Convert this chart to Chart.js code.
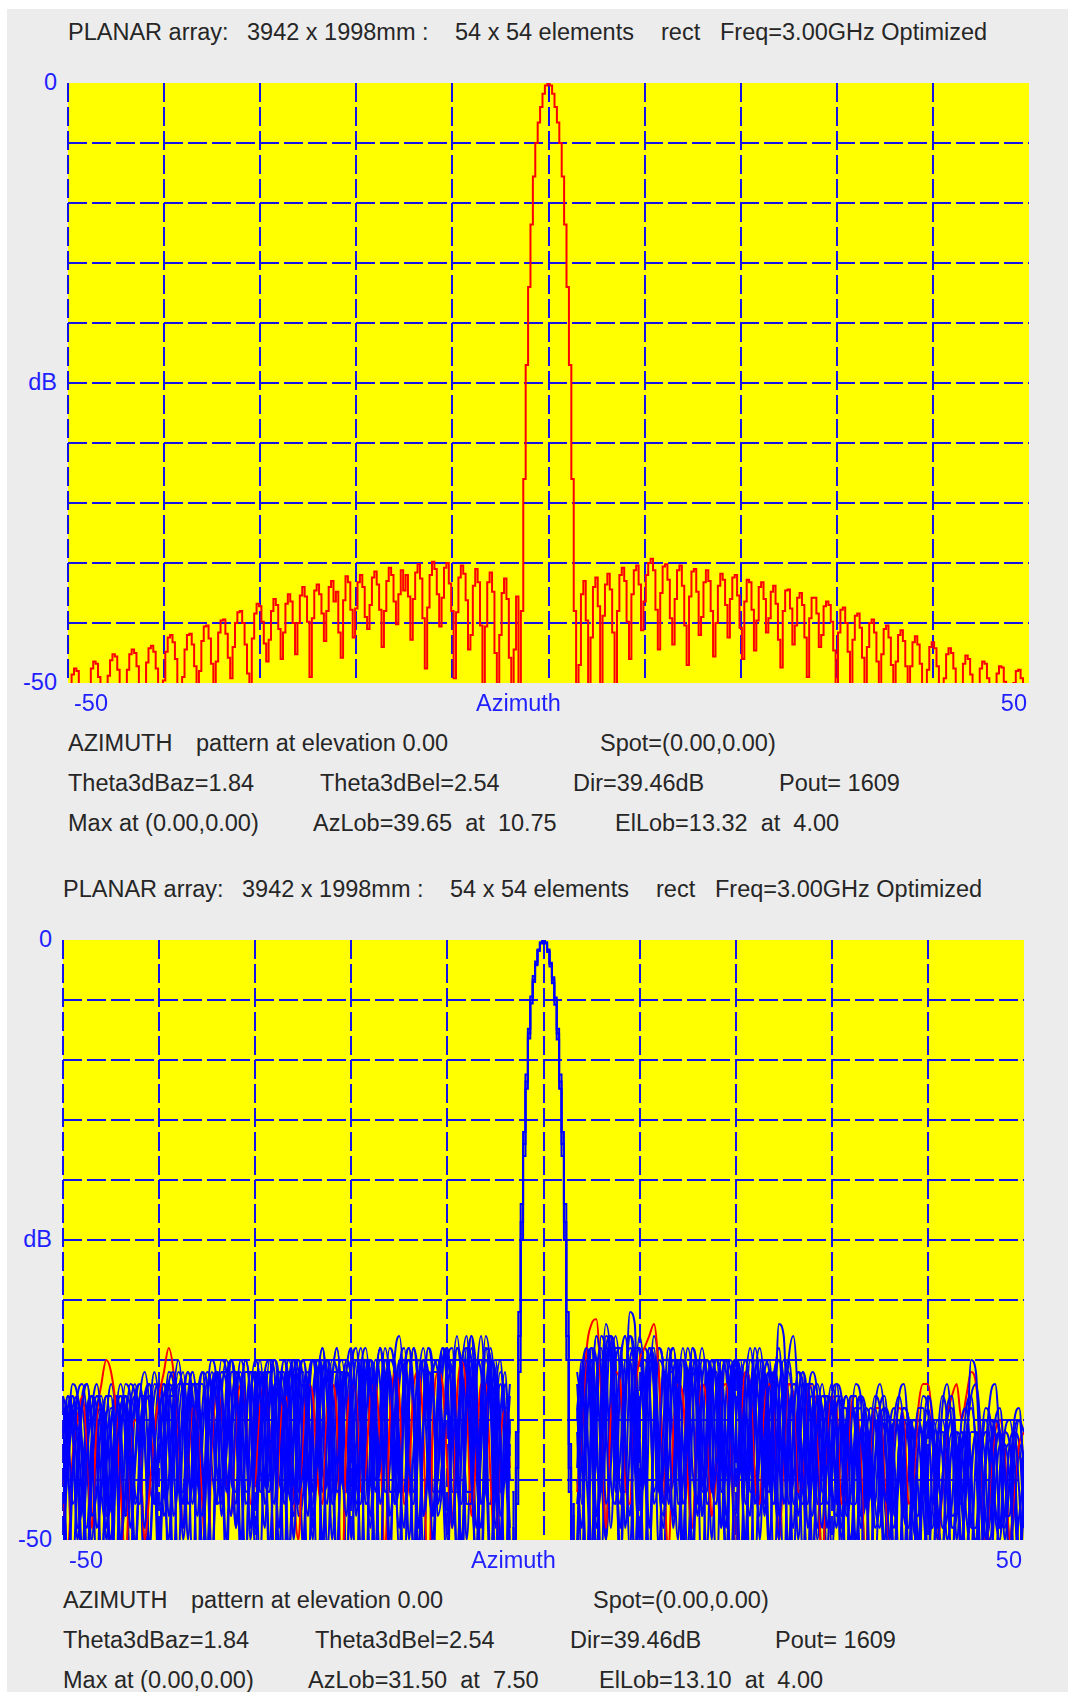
<!DOCTYPE html>
<html>
<head>
<meta charset="utf-8">
<title>Planar array azimuth pattern</title>
<script src="https://cdn.jsdelivr.net/npm/chart.js@4.4.1/dist/chart.umd.min.js"></script>
<style>
  html, body { margin: 0; padding: 0; background: #fff; }
  body { width: 1068px; height: 1692px; position: relative; overflow: hidden; }
  #panel { position: absolute; left: 7px; top: 9px; right: 0; bottom: 0; background: #ececec; }
  .txt { position: absolute; white-space: pre; font-family: "Liberation Sans", Arial, sans-serif;
         font-size: 23.5px; line-height: 23.5px; color: #262626; }
  .ax { color: #1f1fff; }
  canvas { position: absolute; }
</style>
</head>
<body>
<div id="panel"></div>
<canvas id="azTop" width="977" height="616" style="left:60px;top:75px"></canvas>
<canvas id="azBottom" width="977" height="616" style="left:55px;top:932px"></canvas>
<script>
// ---- texts ----
const titleParts = ['PLANAR array:', '3942 x 1998mm :', '54 x 54 elements', 'rect', 'Freq=3.00GHz Optimized'];
const yAxisLabels = ['0', 'dB', '-50'];
const xAxisLabels = ['-50', 'Azimuth', '50'];
const infoTop = [
  ['AZIMUTH', 'pattern at elevation 0.00', 'Spot=(0.00,0.00)'],
  ['Theta3dBaz=1.84', 'Theta3dBel=2.54', 'Dir=39.46dB', 'Pout= 1609'],
  ['Max at (0.00,0.00)', 'AzLob=39.65  at  10.75', 'ElLob=13.32  at  4.00']
];
const infoBottom = [
  ['AZIMUTH', 'pattern at elevation 0.00', 'Spot=(0.00,0.00)'],
  ['Theta3dBaz=1.84', 'Theta3dBel=2.54', 'Dir=39.46dB', 'Pout= 1609'],
  ['Max at (0.00,0.00)', 'AzLob=31.50  at  7.50', 'ElLob=13.10  at  4.00']
];

// ---- optimized pattern, 0.25 deg steps from -50 to 50 (dB) ----
const patternOpt = [
  -53, -50.4, -49.3, -48.8, -49.0, -50.1, -52.5, -56,
  -53.5, -50.2, -48.8, -48.2, -48.4, -49.5, -51.8, -55,
  -52, -49.4, -48.1, -47.6, -47.8, -48.9, -51.0, -54,
  -51.5, -48.9, -47.6, -47.2, -47.5, -48.6, -50.6, -53,
  -50.5, -48.3, -47.1, -46.9, -47.4, -48.8, -51.2, -52.5,
  -49.8, -47.4, -46.2, -46.0, -46.6, -48.0, -50.3, -51.6,
  -49.5, -47.2, -46.0, -45.9, -46.8, -48.6, -50.8,
  -49.0, -46.5, -45.3, -45.2, -46.3, -48.4, -50.9,
  -48.2, -45.8, -44.8, -44.7, -45.9, -47.9, -49.6,
  -47.0, -45.0, -44.1, -44.0, -45.0, -46.8, -49.2,
  -51.0, -46.3, -44.2, -43.4, -43.6, -44.9, -46.7, -48.2,
  -46.4, -44.0, -43.0, -43.5, -45.5, -48.0,
  -45.8, -43.4, -42.6, -43.2, -45.0, -47.6,
  -45.0, -42.7, -42.0, -42.8, -44.9, -49.5,
  -44.6, -42.3, -41.8, -42.6, -44.2, -46.5,
  -44.0, -42.0, -41.5, -43.2, -42.4, -45.8,
  -47.9, -43.1, -41.1, -41.6, -43.9, -46.2,
  -43.8, -41.6, -41.0, -42.0, -44.5, -45.5,
  -43.5, -41.2, -40.7, -41.8, -43.9, -47.0,
  -44.0, -41.5, -40.4, -41.0, -43.2, -45.1,
  -42.6, -40.6, -42.3, -41.0, -42.8, -46.4,
  -43.0, -40.8, -40.1, -41.3, -44.6, -48.8,
  -43.7, -41.0, -39.9, -40.5, -42.6, -45.3,
  -42.9, -40.4, -40.0, -41.7, -44.0, -49.6,
  -44.1, -41.2, -40.2, -40.9, -43.1, -47.2,
  -46.0, -41.9, -40.5, -41.6, -45.2, -52,
  -45.3, -41.6, -40.8, -42.4, -47.5, -55, -46.0, -42.5,
  -41.3, -43.0, -47.9, -56, -47.2, -42.8,
  // main beam -3 .. 3
  -56, -44, -33, -23.5, -17, -11.8, -7.8, -5.0, -3.3, -2.0, -0.9, -0.2, 0,
  -0.2, -0.9, -2.0, -3.3, -5.0, -7.8, -11.8, -17, -23.5, -33, -44, -56,
  -48.5, -42.6, -41.5, -44.8, -53, -46.2,
  -42.0, -41.2, -43.6, -50.5, -44.4, -41.8,
  -40.9, -42.2, -45.8, -52, -44.0, -41.0,
  -40.4, -41.5, -44.9, -48.0, -42.6, -40.6,
  -40.2, -41.8, -45.6, -43.2, -41.0, -40.0,
  -39.65, -40.6, -43.9, -47.2, -42.5, -40.3,
  -40.1, -41.4, -44.6, -46.8, -43.0, -40.6,
  -40.2, -41.9, -45.2, -48.5, -42.8, -40.7,
  -40.5, -42.4, -46.0, -44.5, -41.6, -40.6,
  -41.5, -44.0, -47.8, -45.0, -41.9, -40.9, -41.4, -43.5,
  -46.2, -43.0, -41.2, -41.0, -42.7, -45.4,
  -48.0, -43.2, -41.4, -41.6, -43.9, -47.3,
  -44.8, -42.0, -41.6, -43.0, -45.8, -44.6,
  -42.4, -41.9, -43.4, -46.4, -48.7, -44.0,
  -42.3, -42.2, -43.8, -46.8, -45.2, -42.9,
  -42.5, -43.5, -46.2, -49.5, -44.6, -42.9,
  -42.9, -44.2, -47.0, -46.0, -43.6, -43.2,
  -43.5, -44.9, -47.3, -50.5, -45.8, -43.9, -43.7, -45.0,
  -47.4, -50.8, -46.4, -44.4, -44.2, -45.4, -47.9,
  -51.5, -47.0, -45.0, -44.7, -45.8, -48.2, -52,
  -47.6, -45.5, -45.2, -46.2, -48.5, -51.8, -48.2,
  -46.0, -45.6, -46.5, -48.6, -52, -48.6, -46.6,
  -46.1, -46.8, -48.4, -51.2, -53, -48.9, -47.0, -46.6,
  -47.1, -48.6, -51.3, -54, -49.6, -47.6, -47.1, -47.5,
  -48.8, -51.2, -55, -50.5, -48.4, -47.7, -48.0, -49.3,
  -51.6, -55, -51.0, -48.8, -48.2, -48.4, -49.6, -52,
  -56, -51.4, -49.2, -48.6, -48.7, -49.9, -52.4, -57,
  -52, -50.0, -49.0, -48.9, -49.6, -51.2, -54, -53.0
];

// ---- error trials: main beam (-3.25 .. 3.25, 0.25 deg) ----
const beamA = [-49, -55, -44, -33, -23.5, -17, -11.8, -7.8, -5.0, -3.3, -2.0, -0.9, -0.2, 0,
  -0.2, -0.9, -2.0, -3.3, -5.0, -7.8, -11.8, -17, -23.5, -33, -44, -55, -48];
const beamB = [-46, -52, -41, -31, -22, -16, -11.2, -7.4, -4.7, -3.0, -1.8, -0.8, -0.2, 0,
  -0.3, -1.0, -2.2, -3.6, -5.4, -8.3, -12.4, -18, -25, -35, -46, -53, -47];
const beamC = [-50, -56, -47, -36, -25, -18, -12.4, -8.2, -5.3, -3.5, -2.1, -0.9, -0.3, 0,
  -0.2, -0.8, -1.9, -3.1, -4.8, -7.4, -11.2, -16, -22, -31, -42, -52, -47];

// sidelobes, 0.5 deg: 94 values -50..-3.5 followed by 94 values 3.5..50
const trial1 = [
  -44, -39, -38, -42, -51, -43, -39, -37, -40, -48,
  -47, -40, -38, -39, -45, -53, -41, -38, -37, -41,
  -50, -42, -37, -36, -40, -47, -40, -37, -38, -44,
  -52, -39, -36, -38, -46, -42, -37, -36, -41, -49,
  -40, -36, -37, -44, -47, -38, -35, -39, -50, -41,
  -37, -38, -46, -43, -36, -35, -40, -54, -39, -36,
  -38, -48, -41, -35, -36, -45, -44, -37, -36, -42,
  -51, -38, -35, -39, -49, -40, -36, -38, -47, -43,
  -37, -36, -44, -50, -38, -35, -41, -55, -40, -37,
  -39, -48, -44, -38,
  -41, -52, -37, -35, -43, -46, -36, -33, -39, -52,
  -38, -34, -36, -47, -42, -35, -37, -45, -49, -37,
  -35, -40, -53, -38, -36, -39, -48, -41, -35, -37,
  -46, -44, -36, -35, -42, -51, -38, -36, -40, -48,
  -40, -36, -38, -47, -43, -37, -38, -45, -52, -39,
  -37, -40, -49, -42, -37, -38, -46, -50, -40, -38,
  -41, -52, -44, -39, -38, -43, -51, -42, -39, -40,
  -47, -48, -41, -38, -40, -49, -45, -39, -38, -43,
  -53, -42, -38, -37, -41, -50, -44, -40, -39, -44,
  -52, -43, -40, -41
];
const trial2 = [
  -47, -41, -37, -38, -44, -55, -42, -38, -39, -46,
  -50, -40, -37, -40, -49, -44, -38, -36, -39, -47,
  -43, -38, -37, -43, -52, -40, -36, -38, -45, -48,
  -39, -36, -39, -48, -41, -35, -37, -44, -53, -39,
  -35, -37, -45, -46, -38, -36, -40, -51, -42, -36,
  -36, -43, -50, -38, -34, -38, -47, -45, -37, -36,
  -41, -55, -39, -35, -37, -46, -42, -35, -36, -44,
  -49, -37, -34, -38, -51, -41, -36, -37, -48, -45,
  -36, -35, -42, -52, -39, -34, -38, -47, -44, -36,
  -35, -41, -53, -42,
  -39, -36, -45, -51, -37, -34, -40, -49, -41, -35,
  -33, -38, -53, -40, -35, -37, -46, -43, -36, -38,
  -49, -41, -35, -36, -44, -47, -37, -35, -39, -54,
  -40, -35, -36, -45, -44, -37, -34, -38, -50, -41,
  -36, -37, -48, -42, -35, -33, -39, -52, -39, -36,
  -38, -46, -44, -38, -37, -42, -53, -41, -37, -38,
  -47, -46, -39, -37, -40, -50, -43, -38, -37, -42,
  -52, -42, -38, -39, -47, -46, -39, -37, -41, -50,
  -44, -39, -38, -43, -54, -43, -38, -37, -42, -49,
  -45, -40, -39, -45
];
const trial3 = [
  -38, -40, -47, -45, -39, -37, -41, -53, -43, -38,
  -38, -43, -51, -41, -37, -38, -44, -49, -40, -36,
  -39, -48, -45, -38, -35, -39, -50, -42, -37, -37,
  -43, -54, -40, -36, -37, -45, -46, -38, -35, -38,
  -49, -41, -36, -35, -42, -52, -39, -36, -38, -46,
  -44, -37, -35, -39, -50, -41, -36, -36, -43, -48,
  -39, -35, -38, -47, -45, -37, -34, -40, -53, -40,
  -35, -36, -44, -46, -37, -35, -41, -50, -39, -34,
  -37, -49, -42, -35, -36, -45, -51, -38, -34, -39,
  -52, -40, -36, -45,
  -50, -39, -35, -38, -48, -42, -34, -35, -44, -47,
  -37, -35, -41, -54, -39, -34, -36, -46, -44, -36,
  -36, -43, -51, -39, -34, -37, -48, -42, -36, -36,
  -43, -49, -38, -35, -39, -52, -41, -35, -37, -45,
  -46, -37, -34, -40, -51, -40, -36, -39, -49, -44,
  -38, -39, -47, -45, -39, -38, -44, -52, -42, -38,
  -39, -46, -47, -40, -39, -44, -55, -42, -39, -40,
  -46, -51, -42, -39, -42, -50, -45, -40, -39, -44,
  -51, -44, -35, -36, -46, -53, -43, -40, -41, -48,
  -48, -41, -40, -44
];
const trial4 = [
  -41, -52, -44, -38, -37, -40, -48, -46, -40, -38,
  -42, -55, -42, -37, -38, -46, -47, -39, -37, -41,
  -51, -41, -36, -37, -45, -49, -39, -36, -40, -52,
  -42, -37, -36, -42, -50, -40, -36, -37, -47, -45,
  -38, -35, -40, -53, -41, -36, -37, -46, -47, -37,
  -35, -39, -48, -42, -35, -36, -44, -52, -39, -35,
  -37, -45, -47, -37, -35, -40, -54, -40, -35, -36,
  -44, -49, -38, -34, -38, -48, -43, -36, -36, -45,
  -53, -39, -34, -37, -46, -46, -36, -35, -43, -54,
  -41, -36, -39, -49,
  -36, -40, -55, -40, -33, -36, -47, -44, -35, -34,
  -41, -51, -38, -33, -37, -49, -41, -35, -36, -45,
  -48, -38, -34, -38, -51, -40, -35, -37, -46, -44,
  -37, -35, -41, -54, -39, -35, -38, -47, -43, -36,
  -35, -42, -50, -38, -35, -39, -48, -43, -37, -37,
  -44, -49, -40, -37, -40, -50, -44, -38, -38, -45,
  -54, -42, -38, -39, -46, -47, -40, -38, -41, -51,
  -44, -39, -39, -45, -53, -42, -38, -40, -48, -47,
  -40, -39, -44, -52, -43, -39, -40, -47, -49, -41,
  -40, -43, -51, -46
];
const trial5 = [
  -53, -43, -39, -38, -42, -51, -44, -39, -38, -43,
  -56, -44, -39, -38, -42, -52, -43, -38, -37, -42,
  -47, -46, -39, -37, -40, -50, -44, -37, -37, -43,
  -51, -41, -36, -37, -44, -48, -39, -35, -38, -50,
  -43, -37, -36, -41, -52, -40, -35, -37, -45, -47,
  -38, -36, -41, -55, -40, -35, -37, -46, -44, -36,
  -34, -39, -51, -41, -35, -37, -47, -43, -35, -35,
  -42, -54, -39, -34, -37, -48, -44, -36, -35, -41,
  -50, -40, -34, -36, -47, -47, -37, -33, -39, -52,
  -42, -37, -40, -50,
  -44, -36, -34, -42, -53, -38, -32, -35, -46, -43,
  -35, -35, -44, -50, -38, -34, -38, -51, -40, -34,
  -37, -47, -45, -37, -35, -41, -55, -39, -35, -38,
  -49, -43, -36, -35, -42, -50, -39, -34, -37, -47,
  -44, -36, -35, -41, -53, -41, -36, -37, -45, -48,
  -40, -37, -41, -51, -44, -39, -39, -47, -47, -41,
  -40, -43, -53, -43, -39, -40, -48, -45, -40, -40,
  -45, -55, -44, -40, -41, -49, -46, -40, -40, -46,
  -47, -41, -39, -42, -51, -44, -40, -41, -49, -48,
  -42, -41, -46, -54
];
const trial6 = [
  -40, -38, -41, -50, -45, -39, -38, -42, -54, -43,
  -39, -39, -45, -48, -40, -38, -41, -51, -43, -38,
  -37, -41, -53, -42, -37, -37, -44, -47, -39, -36,
  -40, -52, -41, -36, -36, -43, -49, -39, -35, -38,
  -47, -44, -37, -36, -40, -51, -41, -36, -36, -44,
  -50, -39, -35, -37, -46, -45, -37, -34, -39, -53,
  -40, -35, -36, -44, -49, -38, -34, -37, -48, -44,
  -37, -35, -40, -52, -40, -35, -36, -46, -45, -36,
  -34, -39, -51, -42, -35, -37, -49, -43, -34, -35,
  -43, -52, -39, -39,
  -47, -42, -35, -36, -48, -45, -35, -34, -42, -53,
  -40, -31, -32, -47, -43, -35, -36, -45, -48, -37,
  -34, -38, -50, -41, -35, -36, -46, -44, -37, -36,
  -41, -53, -40, -35, -37, -47, -44, -36, -35, -43,
  -51, -39, -35, -37, -47, -45, -38, -36, -42, -53,
  -42, -38, -38, -45, -49, -41, -38, -41, -50, -44,
  -41, -42, -49, -47, -41, -40, -46, -53, -43, -40,
  -42, -50, -46, -41, -41, -47, -51, -42, -40, -43,
  -50, -46, -41, -41, -47, -53, -43, -40, -42, -50,
  -45, -41, -42, -49
];
const trial7 = [
  -46, -55, -45, -40, -39, -44, -50, -43, -39, -40,
  -46, -53, -42, -38, -39, -47, -45, -39, -38, -43,
  -54, -41, -37, -38, -46, -46, -38, -36, -41, -55,
  -39, -35, -37, -46, -43, -36, -36, -42, -52, -39,
  -36, -38, -47, -44, -37, -37, -43, -53, -40, -35,
  -37, -45, -47, -37, -34, -39, -50, -42, -36, -37,
  -46, -45, -36, -34, -39, -52, -40, -35, -38, -47,
  -45, -36, -35, -41, -55, -39, -34, -37, -47, -43,
  -35, -36, -45, -47, -36, -33, -40, -52, -39, -35,
  -37, -46, -45, -41,
  -39, -47, -41, -34, -35, -44, -50, -37, -33, -37,
  -49, -42, -34, -34, -42, -53, -39, -34, -36, -47,
  -43, -35, -35, -42, -52, -38, -34, -38, -50, -41,
  -35, -36, -44, -48, -38, -35, -40, -53, -41, -35,
  -36, -45, -49, -39, -36, -40, -50, -43, -37, -38,
  -47, -47, -40, -38, -42, -53, -43, -39, -40, -48,
  -47, -41, -39, -42, -51, -46, -40, -40, -46, -51,
  -43, -40, -42, -48, -49, -42, -40, -43, -53, -45,
  -41, -42, -48, -50, -43, -41, -44, -54, -45, -41,
  -42, -47, -52, -44
];
const trial8 = [
  -39, -43, -53, -44, -38, -37, -41, -49, -46, -40,
  -37, -40, -50, -46, -39, -37, -42, -55, -42, -37,
  -38, -45, -50, -40, -36, -38, -47, -45, -38, -36,
  -41, -53, -40, -35, -36, -44, -47, -38, -35, -39,
  -51, -42, -36, -36, -43, -49, -38, -35, -38, -48,
  -46, -37, -35, -40, -52, -40, -35, -36, -45, -46,
  -36, -34, -40, -53, -41, -35, -37, -46, -44, -35,
  -33, -38, -50, -42, -35, -36, -45, -48, -37, -34,
  -38, -48, -44, -35, -34, -42, -54, -39, -33, -36,
  -46, -50, -40, -43,
  -52, -39, -36, -40, -51, -41, -33, -34, -43, -49,
  -38, -33, -37, -50, -41, -34, -35, -44, -47, -36,
  -34, -39, -53, -41, -34, -36, -45, -46, -37, -35,
  -40, -51, -42, -35, -36, -44, -48, -37, -34, -38,
  -50, -42, -32, -33, -44, -49, -39, -36, -39, -51,
  -43, -38, -39, -46, -48, -40, -38, -42, -52, -43,
  -39, -40, -47, -49, -42, -40, -43, -52, -44, -40,
  -41, -46, -52, -44, -40, -42, -49, -48, -42, -41,
  -45, -53, -45, -41, -42, -48, -50, -43, -41, -44,
  -51, -47, -42, -43
];
const trial9 = [
  -42, -38, -40, -49, -47, -40, -38, -41, -52, -44,
  -40, -38, -43, -54, -43, -38, -37, -42, -50, -42,
  -37, -39, -48, -44, -38, -36, -41, -53, -41, -36,
  -37, -44, -47, -38, -35, -38, -49, -43, -36, -36,
  -42, -52, -40, -35, -36, -45, -46, -37, -35, -40,
  -51, -40, -35, -36, -44, -47, -37, -34, -39, -52,
  -41, -35, -35, -43, -48, -38, -34, -38, -50, -41,
  -35, -36, -45, -47, -37, -34, -39, -53, -40, -34,
  -36, -46, -46, -36, -33, -40, -54, -40, -35, -38,
  -49, -43, -37, -41,
  -52, -38, -34, -37, -49, -44, -34, -33, -41, -53,
  -39, -33, -35, -46, -45, -35, -34, -42, -52, -38,
  -35, -37, -47, -44, -36, -35, -42, -51, -39, -35,
  -37, -48, -43, -36, -35, -41, -53, -40, -35, -36,
  -45, -47, -38, -35, -39, -52, -42, -37, -37, -44,
  -49, -41, -38, -39, -47, -46, -40, -38, -42, -52,
  -43, -39, -40, -46, -50, -41, -39, -42, -51, -44,
  -40, -41, -47, -52, -43, -40, -43, -50, -47, -41,
  -42, -48, -51, -43, -41, -44, -53, -46, -42, -43,
  -50, -47, -43, -45
];
const trial10 = [
  -50, -44, -40, -39, -43, -54, -45, -40, -39, -44,
  -53, -43, -39, -38, -43, -50, -44, -39, -38, -42,
  -52, -42, -38, -38, -45, -47, -39, -37, -40, -51,
  -43, -37, -36, -42, -53, -40, -36, -37, -46, -45,
  -37, -36, -41, -50, -42, -36, -36, -44, -48, -38,
  -35, -38, -49, -43, -36, -35, -42, -51, -40, -35,
  -37, -47, -44, -36, -35, -41, -53, -39, -34, -36,
  -46, -46, -37, -34, -39, -51, -42, -35, -36, -45,
  -48, -37, -33, -38, -50, -42, -35, -36, -46, -47,
  -38, -35, -42, -53,
  -40, -35, -39, -51, -41, -33, -35, -45, -47, -36,
  -33, -39, -52, -40, -34, -36, -47, -44, -35, -35,
  -43, -50, -39, -34, -37, -48, -43, -35, -36, -44,
  -49, -38, -35, -39, -52, -41, -35, -37, -47, -45,
  -37, -36, -42, -53, -41, -37, -38, -46, -47, -39,
  -38, -43, -51, -42, -38, -39, -48, -46, -40, -39,
  -44, -53, -43, -40, -41, -47, -49, -42, -40, -42,
  -49, -50, -43, -40, -42, -48, -52, -44, -41, -42,
  -47, -51, -44, -41, -43, -50, -48, -42, -41, -44,
  -52, -46, -43, -44
];
const trial11 = [
  -45, -40, -39, -45, -53, -42, -38, -39, -46, -49,
  -41, -38, -40, -48, -46, -39, -37, -41, -51, -43,
  -38, -37, -42, -52, -41, -37, -37, -44, -48, -39,
  -36, -38, -47, -46, -37, -35, -40, -52, -41, -36,
  -36, -43, -49, -39, -35, -37, -47, -44, -36, -35,
  -41, -54, -40, -35, -36, -45, -46, -37, -35, -39,
  -50, -42, -35, -35, -42, -51, -39, -34, -37, -47,
  -44, -36, -34, -40, -52, -40, -34, -36, -46, -45,
  -35, -34, -41, -53, -39, -33, -36, -47, -44, -35,
  -36, -43, -55, -40,
  -37, -44, -52, -38, -33, -37, -50, -42, -34, -34,
  -43, -48, -37, -34, -38, -52, -40, -34, -36, -46,
  -45, -36, -35, -40, -54, -40, -35, -36, -45, -47,
  -37, -35, -40, -51, -42, -36, -37, -45, -48, -38,
  -36, -40, -50, -43, -37, -38, -46, -47, -39, -38,
  -43, -52, -43, -39, -40, -48, -46, -40, -39, -44,
  -51, -44, -40, -41, -47, -50, -42, -40, -43, -52,
  -45, -41, -41, -46, -53, -44, -41, -42, -49, -48,
  -42, -41, -45, -52, -44, -40, -42, -48, -50, -43,
  -42, -46, -53, -47
];
const trial12 = [
  -48, -42, -38, -40, -47, -49, -41, -38, -40, -50,
  -45, -39, -38, -42, -52, -43, -38, -38, -45, -47,
  -40, -37, -39, -48, -45, -38, -36, -40, -53, -42,
  -37, -37, -44, -47, -38, -35, -38, -50, -42, -36,
  -37, -46, -45, -37, -35, -39, -52, -41, -35, -36,
  -44, -48, -38, -35, -38, -51, -42, -36, -36, -45,
  -47, -37, -34, -39, -53, -40, -35, -36, -46, -46,
  -36, -34, -39, -51, -41, -35, -37, -48, -44, -35,
  -34, -40, -52, -41, -34, -35, -44, -49, -38, -34,
  -39, -50, -43, -37,
  -45, -49, -36, -34, -40, -52, -40, -33, -35, -46,
  -46, -35, -34, -41, -53, -39, -33, -36, -47, -44,
  -36, -35, -42, -51, -40, -35, -37, -47, -45, -37,
  -36, -42, -52, -41, -36, -37, -46, -46, -38, -36,
  -41, -53, -42, -37, -38, -47, -45, -38, -37, -42,
  -50, -43, -39, -39, -46, -49, -41, -39, -41, -49,
  -46, -41, -40, -44, -53, -44, -40, -41, -48, -49,
  -42, -40, -43, -51, -47, -41, -41, -46, -52, -44,
  -41, -43, -49, -49, -43, -41, -45, -54, -44, -42,
  -45, -51, -48, -44
];
// the trial drawn in red
const trialRed = [
  -45, -51, -43, -40, -38, -42, -49, -40, -37, -35,
  -36, -39, -46, -52, -43, -40, -42, -50, -46, -41,
  -38, -36, -34, -36, -41, -49, -44, -39, -40, -47,
  -53, -42, -38, -39, -45, -48, -40, -37, -39, -47,
  -45, -39, -37, -41, -52, -42, -38, -39, -46, -50,
  -41, -37, -38, -45, -47, -39, -37, -40, -54, -41,
  -37, -38, -46, -44, -38, -37, -42, -51, -40, -36,
  -38, -47, -45, -37, -36, -41, -55, -40, -36, -37,
  -44, -49, -38, -35, -38, -48, -43, -37, -37, -45,
  -52, -42, -39, -44,
  -46, -41, -34, -32, -31.6, -38, -49, -40, -36, -37,
  -45, -47, -38, -35, -34, -33, -32, -36, -44, -51,
  -41, -37, -38, -45, -49, -40, -37, -39, -48, -44,
  -38, -37, -42, -52, -41, -36, -37, -45, -47, -39,
  -37, -40, -50, -43, -37, -38, -46, -45, -38, -37,
  -42, -53, -42, -38, -39, -47, -46, -39, -38, -43,
  -52, -43, -39, -39, -45, -50, -42, -39, -40, -47,
  -45, -39, -37, -37, -41, -50, -46, -40, -38, -37,
  -40, -38, -36, -37, -42, -52, -45, -41, -40, -43,
  -50, -46, -42, -41
];
const blueTrials = [trial1, trial2, trial3, trial4, trial5, trial6,
                    trial7, trial8, trial9, trial10, trial11, trial12];

// ---- sample positions (deg) ----
const azFine = [];   // -50 .. 50 step 0.25
for (let i = 0; i <= 400; i++) azFine.push(-50 + i * 0.25);
const azLeft = [];   // -50 .. -3.5 step 0.5
const azRight = [];  // 3.5 .. 50 step 0.5
for (let i = 0; i < 94; i++) { azLeft.push(-50 + i * 0.5); azRight.push(3.5 + i * 0.5); }
const azBeam = [];   // -3.25 .. 3.25 step 0.25
for (let i = 0; i < 27; i++) azBeam.push(-3.25 + i * 0.25);

function pts(xs, ys) { return ys.map((y, i) => ({ x: xs[i], y })); }
// sidelobes of one trial, broken across the main beam
function sidelobePoints(vals) {
  return pts(azLeft, vals.slice(0, 94)).concat([{ x: 0, y: null }], pts(azRight, vals.slice(94)));
}

// ---- chart setup ----
const gridBlue = '#1414e8';
const none = 'rgba(0,0,0,0)';

const yellowArea = {
  id: 'yellowArea',
  beforeDraw(chart) {
    const a = chart.chartArea, ctx = chart.ctx;
    ctx.save();
    ctx.fillStyle = '#ffff00';
    ctx.fillRect(a.left, a.top, a.right - a.left, a.bottom - a.top);
    ctx.restore();
  }
};

function patternChart(id, datasets) {
  return new Chart(document.getElementById(id), {
    type: 'line',
    data: { datasets },
    options: {
      responsive: false,
      animation: false,
      devicePixelRatio: 1,
      events: [],
      spanGaps: false,
      layout: { padding: 8 },
      plugins: { legend: { display: false }, tooltip: { enabled: false } },
      elements: { point: { radius: 0 }, line: { borderWidth: 2, tension: 0 } },
      scales: {
        x: {
          type: 'linear', min: -50, max: 50,
          ticks: { display: false, stepSize: 10 },
          grid: { color: c => c.tick && c.tick.value === 50 ? none : gridBlue, lineWidth: 2, drawTicks: false },
          border: { display: false, dash: [19, 5] }
        },
        y: {
          type: 'linear', min: -50, max: 0,
          ticks: { display: false, stepSize: 5 },
          grid: { color: c => c.tick && (c.tick.value === 0 || c.tick.value === -50) ? none : gridBlue, lineWidth: 2, drawTicks: false },
          border: { display: false, dash: [19, 5] }
        }
      }
    },
    plugins: [yellowArea]
  });
}

patternChart('azTop', [
  { data: pts(azFine, patternOpt), borderColor: '#ff0000', stepped: 'middle', clip: 0 }
]);

// earlier datasets are painted on top: beams, five blue trials, the red trial, the rest
const blueSet = t => ({ data: sidelobePoints(t), borderColor: '#0000ff', cubicInterpolationMode: 'monotone', clip: 0 });
const bottomSets = [beamA, beamB, beamC].map(b => ({
  data: pts(azBeam, b), borderColor: '#0000ff', stepped: 'middle', clip: 0
}));
blueTrials.slice(0, 5).forEach(t => bottomSets.push(blueSet(t)));
bottomSets.push({ data: sidelobePoints(trialRed), borderColor: '#ff0000',
  cubicInterpolationMode: 'monotone', clip: 0 });
blueTrials.slice(5).forEach(t => bottomSets.push(blueSet(t)));
patternChart('azBottom', bottomSets);

// ---- text ----
const BASE = 19.9;
function putText(str, x, baseline, cls, alignRight) {
  const d = document.createElement('div');
  d.className = 'txt' + (cls ? ' ' + cls : '');
  d.textContent = str;
  d.style.left = x + 'px';
  d.style.top = (baseline - BASE) + 'px';
  if (alignRight) d.style.transform = 'translateX(-100%)';
  document.body.appendChild(d);
}

const titleX = [68, 247, 455, 661, 720];
const infoXTop = [[68, 196, 600], [68, 320, 573, 779], [68, 313, 615]];
const infoXBottom = [[63, 191, 593], [63, 315, 570, 775], [63, 308, 599]];

function panelText(dx, dy, info, infoX) {
  titleParts.forEach((t, i) => putText(t, titleX[i] + dx, 41 + dy));
  putText(yAxisLabels[0], 57 + dx, 91 + dy, 'ax', true);
  putText(yAxisLabels[1], 57 + dx, 391 + dy, 'ax', true);
  putText(yAxisLabels[2], 57 + dx, 691 + dy, 'ax', true);
  putText(xAxisLabels[0], 74 + dx, 712 + dy, 'ax');
  putText(xAxisLabels[1], 476 + dx, 712 + dy, 'ax');
  putText(xAxisLabels[2], 1027 + dx, 712 + dy, 'ax', true);
  info.forEach((line, r) => line.forEach((t, c) => putText(t, infoX[r][c], 752 + r * 40 + dy)));
}
panelText(0, 0, infoTop, infoXTop);
panelText(-5, 857, infoBottom, infoXBottom);
</script>
</body>
</html>
